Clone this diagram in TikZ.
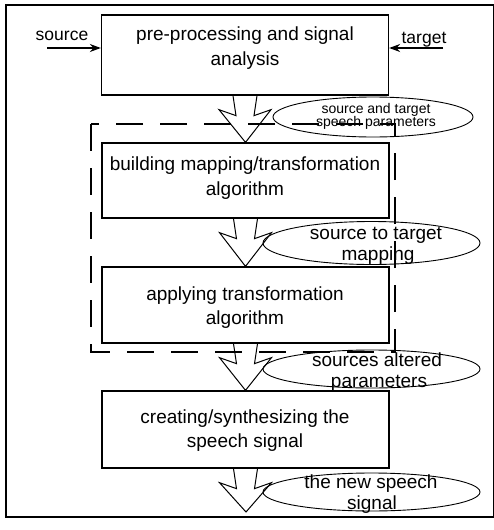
\documentclass[tikz,border=0pt]{standalone}
\usepackage{fontspec}
\setmainfont{Liberation Sans}
\usetikzlibrary{shapes.geometric,calc,arrows.meta}
\tikzset{
  box/.style={draw,line width=1.3pt,minimum width=287pt,inner sep=0pt},
  btext/.style={anchor=base,inner sep=0pt,font=\fontsize{19}{23}\selectfont},
  etext/.style={anchor=base,inner sep=0pt,font=\fontsize{19}{23}\selectfont},
  esmall/.style={anchor=base,inner sep=0pt,font=\fontsize{14}{16}\selectfont},
  ell/.style={draw,ellipse,line width=0.9pt,inner sep=0pt},
  hollow/.style={line width=1pt,line join=miter},
  groupbox/.style={line width=2.6pt,dash pattern=on 27pt off 17pt},
  io/.style={line width=1.3pt,-{Stealth[length=11pt,width=8pt]}},
  lbl/.style={anchor=base,inner sep=0pt,font=\fontsize{17.5}{20}\selectfont}
}
\newcommand{\fatarrow}[2]{%
  \draw[hollow] ($(#1.south)+(-12,0)$) -- ($(#1.south)+(-9,20)$) -- ($(#1.south)+(-26,14)$)
    -- (#2) -- ($(#1.south)+(26,14)$) -- ($(#1.south)+(9,20)$) -- ($(#1.south)+(12,0)$);}
\begin{document}
\begin{tikzpicture}[x=1pt,y=-1pt]
\useasboundingbox (0,0) rectangle (493,530);
\draw[line width=1.3pt] (6,5) rectangle (494,517);

% boxes
\node[box,minimum height=80pt] (b1) at (245,55) {};
\node[box,minimum height=75pt] (b2) at (245.5,180.5) {};
\node[box,minimum height=76pt] (b3) at (245.5,305) {};
\node[box,minimum height=77pt] (b4) at (245.5,429.5) {};

\node[btext] (b1a) at (245,40) {pre-processing and signal};
\node[btext] (b1b) at (245,65) {analysis};
\node[btext] (b2a) at (245,170) {building mapping/transformation};
\node[btext] (b2b) at (245,195) {algorithm};
\node[btext] (b3a) at (245,300) {applying transformation};
\node[btext] (b3b) at (245,324) {algorithm};
\node[btext] (b4a) at (245,423) {creating/synthesizing the};
\node[btext] (b4b) at (245,447) {speech signal};

% source / target
\coordinate (src) at (47,48);
\coordinate (tgt) at (443,48);
\node[lbl] (srcl) at (62,40) {source};
\node[lbl] (tgtl) at (424,43) {target};
\draw[io] (src) -- (src -| b1.west);
\draw[io] (tgt) -- (tgt -| b1.east);

% hollow arrows
\coordinate (out) at (246,512);
\fatarrow{b1}{b2.north}
\fatarrow{b2}{b3.north}
\fatarrow{b3}{b4.north}
\fatarrow{b4}{out}

% ellipses
\node[ell,minimum width=200pt,minimum height=40pt] (e1) at (373,117) {};
\node[ell,minimum width=217pt,minimum height=43pt] (e2) at (371.5,243) {};
\node[ell,minimum width=217pt,minimum height=38pt] (e3) at (371.5,369) {};
\node[ell,minimum width=217pt,minimum height=38pt] (e4) at (371.5,492) {};

\node[esmall] (e1a) at (376,113) {source and target};
\node[esmall] (e1b) at (376,126) {speech parameters};
\node[etext] (e2a) at (376,239) {source to target};
\node[etext] (e2b) at (378,260) {mapping};
\node[etext] (e3a) at (377,366) {sources altered};
\node[etext] (e3b) at (379,387) {parameters};
\node[etext] (e4a) at (371,488) {the new speech};
\node[etext] (e4b) at (372,509) {signal};

% dashed group
\draw[groupbox] (91,124) rectangle (395,352);
\end{tikzpicture}
\end{document}
